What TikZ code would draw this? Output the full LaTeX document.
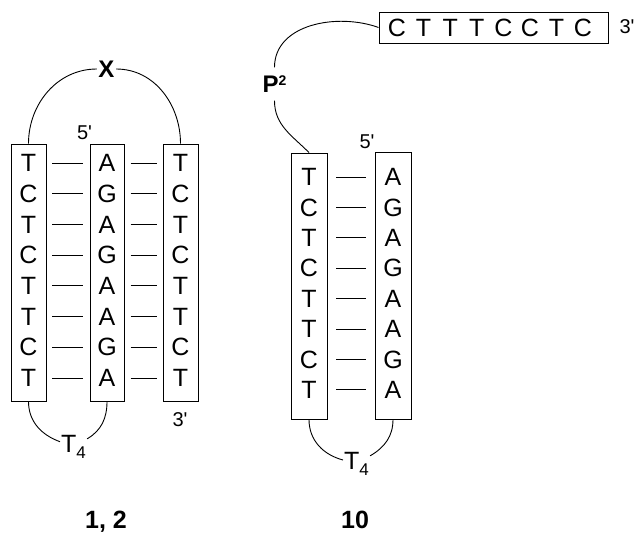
\documentclass[tikz,border=0pt]{standalone}
\usepackage{fontspec}
\setmainfont{Liberation Sans}
\usetikzlibrary{positioning,calc}

\newcommand{\looplab}[1]{T\raisebox{-6.5pt}{\fontsize{17}{20}\selectfont #1}}

\begin{document}
\begin{tikzpicture}[
  x=1pt, y=-1pt,
  strand/.style={rectangle, draw, line width=0.9pt, inner sep=0pt},
  base/.style={inner sep=0pt, font=\fontsize{25}{30}\selectfont},
  tag/.style={inner sep=0pt, font=\fontsize{20}{24}\selectfont},
  linker/.style={inner sep=1.5pt, font=\bfseries\fontsize{24}{28}\selectfont},
  loopname/.style={inner sep=1pt, anchor=base west, font=\fontsize{25}{30}\selectfont},
  cmpd/.style={inner sep=0pt, anchor=base, font=\bfseries\fontsize{25}{30}\selectfont},
  bond/.style={line width=0.8pt},
  arcline/.style={line width=0.9pt}
]
\useasboundingbox (0,0) rectangle (634,533);

% triplex 1, 2
\node[strand, minimum width=35pt, minimum height=257pt] (s1) at (28.5,272.5) {};
\node[strand, minimum width=34pt, minimum height=257pt] (s2) at (107,272.5) {};
\node[strand, minimum width=35pt, minimum height=257pt] (s3) at (180.5,272.5) {};

\foreach \b [count=\i] in {T,C,T,C,T,T,C,T}
  \node[base, minimum width=47pt] (l\i) at (28.5,{163+30.7*(\i-1)}) {\b};
\foreach \b [count=\i] in {A,G,A,G,A,A,G,A}
  \node[base, minimum width=47pt] (m\i) at (107,{163+30.7*(\i-1)}) {\b};
\foreach \b [count=\i] in {T,C,T,C,T,T,C,T}
  \node[base, minimum width=47pt] (r\i) at (180.5,{163+30.7*(\i-1)}) {\b};
\foreach \i in {1,...,8} {
  \draw[bond] (l\i) -- (m\i);
  \draw[bond] (m\i) -- (r\i);
}

\node[linker] (x) at (106.5,69) {X};
\draw[arcline] (s1.north) to[out=90,in=180] (x.west);
\draw[arcline] (x.east) to[out=0,in=90] (s3.north);

\node[loopname] (t4a) at (60,452) {\looplab{4}};
\draw[arcline] (s1.south) to[out=-90,in=160] (t4a.160);
\draw[arcline] (t4a.30) to[out=30,in=-90] (s2.south);

\node[tag] (p5a) at (84.5,133) {5\textquotesingle};
\node[tag] (p3a) at (180,420) {3\textquotesingle};
\node[cmpd] (c12) at (106,528) {1, 2};

% hairpin 10
\node[strand, minimum width=36pt, minimum height=266pt] (sa) at (309,286) {};
\node[strand, minimum width=36pt, minimum height=267pt] (sb) at (393,285.5) {};

\foreach \b [count=\i] in {T,C,T,C,T,T,C,T}
  \node[base, minimum width=54pt] (u\i) at (309,{177+30.4*(\i-1)}) {\b};
\foreach \b [count=\i] in {A,G,A,G,A,A,G,A}
  \node[base, minimum width=54pt] (v\i) at (393,{177+30.4*(\i-1)}) {\b};
\foreach \i in {1,...,8}
  \draw[bond] (u\i) -- (v\i);

\node[strand, minimum width=229pt, minimum height=31pt] (tail) at (493.5,27.5) {};
\foreach \b [count=\i] in {C,T,T,T,C,C,T,C}
  \node[base] (w\i) at ({397+26.57*(\i-1)},27.5) {\b};

\node[linker, minimum height=33pt] (p2) at (274.5,84) {P\raisebox{7pt}{\fontsize{14}{16}\selectfont 2}};
\draw[arcline] (tail.west) to[out=160,in=90] (p2.north);
\draw[arcline] (p2.south) to[out=-90,in=135] (sa.north);

\node[loopname] (t4b) at (343,469) {\looplab{4}};
\draw[arcline] (sa.south) to[out=-90,in=165] (t4b.165);
\draw[arcline] (t4b.30) to[out=30,in=-90] (sb.south);

\node[tag] (p5b) at (367,142) {5\textquotesingle};
\node[tag] (p3b) at (627,27) {3\textquotesingle};
\node[cmpd] (c10) at (355,528) {10};
\end{tikzpicture}
\end{document}
